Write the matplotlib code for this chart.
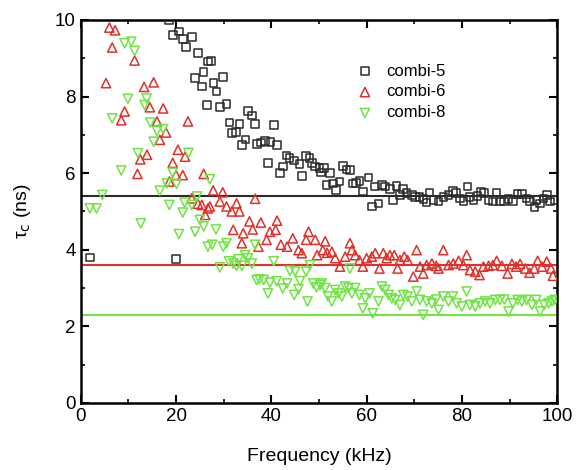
import matplotlib
matplotlib.use("Agg")
import matplotlib.pyplot as plt
import numpy as np

# combi-5 (black squares)
freq_5 = [1.9, 18.5, 19.3, 20.0, 20.6, 21.4, 22.1, 23.3, 24.0, 24.6, 25.4, 25.8, 26.5, 26.7, 27.3,
          27.9, 28.5, 29.2, 29.9, 30.6, 31.2, 31.8, 32.6, 33.3, 33.9, 34.6, 35.1, 35.9, 36.6, 37.0,
          37.8, 38.7, 39.3, 39.8, 40.5, 41.2, 41.8, 42.5, 43.2, 43.8, 44.7, 45.9, 46.4, 47.3, 48.0,
          48.5, 49.2, 50.1, 50.4, 51.1, 51.6, 52.3, 53.0, 53.6, 54.3, 55.1, 55.8, 56.5, 57.1, 57.8,
          58.5, 59.2, 60.4, 61.1, 61.8, 62.5, 63.2, 63.9, 64.9, 65.6, 66.3, 67.0, 67.7, 68.4, 69.5,
          70.2, 71.1, 71.9, 72.6, 73.2, 74.0, 75.1, 76.1, 77.2, 78.1, 78.8, 79.6, 80.3, 81.2, 81.6,
          82.4, 83.3, 84.0, 84.7, 85.6, 86.5, 87.3, 88.0, 88.9, 89.8, 90.7, 91.7, 92.6, 93.6, 94.3,
          95.2, 95.7, 96.4, 97.1, 97.8, 98.5, 99.4]
tau_5 = [3.8, 10.0, 9.6, 3.76, 9.7, 9.5, 9.3, 9.56, 8.49, 9.14, 8.26, 8.64, 7.78, 8.91, 8.93,
         8.36, 8.13, 7.73, 8.51, 7.8, 7.32, 7.05, 7.08, 7.28, 6.74, 6.88, 7.62, 7.5, 7.28, 6.76,
         6.80, 6.84, 6.27, 6.82, 7.25, 6.74, 6.01, 6.17, 6.46, 6.39, 6.33, 6.24, 5.93, 6.44, 6.39,
         6.26, 6.17, 6.14, 6.02, 6.13, 5.69, 6.0, 5.73, 5.56, 5.78, 6.19, 6.1, 6.08, 5.73, 5.75,
         5.8, 5.52, 5.89, 5.13, 5.65, 5.21, 5.69, 5.65, 5.58, 5.3, 5.66, 5.43, 5.58, 5.48, 5.43,
         5.37, 5.37, 5.32, 5.23, 5.49, 5.3, 5.26, 5.37, 5.43, 5.54, 5.48, 5.34, 5.28, 5.65, 5.38,
         5.3, 5.4, 5.52, 5.48, 5.3, 5.26, 5.49, 5.26, 5.26, 5.32, 5.26, 5.46, 5.46, 5.34, 5.26,
         5.11, 5.3, 5.21, 5.34, 5.43, 5.26, 5.3]

# combi-6 (red triangles)
freq_6 = [5.3, 6.0, 6.6, 7.2, 8.5, 9.2, 11.3, 11.9, 12.5, 13.3, 13.9, 14.5, 15.3, 16.0, 16.6,
          17.3, 17.9, 18.6, 19.3, 20.0, 20.4, 21.4, 21.9, 22.5, 23.3, 24.6, 25.4, 25.8, 26.1, 26.7,
          27.1, 27.8, 29.2, 29.8, 30.6, 31.7, 32.0, 32.7, 33.3, 33.8, 34.1, 35.4, 36.1, 36.6, 37.3,
          37.8, 39.0, 39.7, 40.9, 41.2, 42.0, 43.3, 44.5, 45.7, 46.4, 47.3, 47.8, 49.2, 49.6, 50.8,
          51.3, 51.7, 52.7, 53.4, 54.4, 55.5, 56.5, 56.9, 57.6, 58.5, 59.2, 60.0, 61.1, 61.8, 62.7,
          63.5, 64.2, 64.9, 65.8, 66.5, 67.0, 67.9, 68.6, 69.8, 70.5, 71.2, 71.9, 72.6, 73.7, 74.6,
          75.1, 76.1, 77.2, 78.2, 79.3, 80.3, 81.0, 81.7, 82.8, 83.7, 84.5, 85.6, 86.5, 87.3, 88.4,
          89.6, 90.5, 91.4, 92.2, 93.3, 94.2, 95.2, 95.9, 96.8, 97.8, 98.7, 99.1]
tau_6 = [8.35, 9.8, 9.28, 9.73, 7.38, 7.61, 8.94, 5.98, 6.36, 8.25, 6.48, 7.72, 8.37, 7.35, 6.87,
         7.69, 7.06, 5.78, 6.27, 5.95, 6.61, 5.95, 6.43, 7.35, 5.34, 5.2, 5.17, 5.98, 4.91, 5.08,
         5.13, 5.55, 5.26, 5.5, 5.13, 5.0, 4.52, 5.21, 5.0, 4.17, 4.43, 4.74, 4.53, 5.33, 4.08,
         4.71, 4.26, 4.47, 4.52, 4.76, 4.13, 4.08, 4.3, 3.99, 3.91, 4.26, 4.47, 4.26, 3.86, 3.99,
         4.22, 3.92, 3.95, 3.78, 3.56, 3.82, 4.17, 3.99, 3.86, 3.73, 3.56, 3.78, 3.82, 3.91, 3.51,
         3.91, 3.78, 3.86, 3.86, 3.51, 3.73, 3.82, 3.73, 3.3, 3.99, 3.56, 3.38, 3.6, 3.64, 3.58,
         3.51, 3.99, 3.6, 3.64, 3.71, 3.6, 3.86, 3.47, 3.43, 3.34, 3.56, 3.58, 3.6, 3.71, 3.58,
         3.38, 3.63, 3.56, 3.63, 3.51, 3.4, 3.51, 3.71, 3.56, 3.69, 3.51, 3.32]

# combi-8 (green down triangles)
freq_8 = [1.9, 3.3, 4.5, 6.6, 8.5, 9.2, 9.9, 10.6, 11.3, 12.0, 12.6, 13.4, 13.8, 14.6, 15.3,
          16.0, 16.6, 17.3, 18.1, 18.6, 19.3, 20.1, 20.6, 21.4, 21.8, 22.6, 23.3, 24.0, 24.4, 25.0,
          25.8, 26.7, 27.1, 27.6, 28.4, 29.2, 29.9, 30.6, 31.1, 32.0, 32.7, 33.1, 33.8, 34.5, 35.1,
          35.9, 36.6, 36.9, 37.5, 38.4, 39.3, 39.7, 40.5, 41.1, 42.4, 43.3, 43.9, 44.8, 45.0, 45.7,
          46.0, 47.3, 47.6, 48.1, 48.8, 49.5, 50.2, 50.6, 51.3, 51.9, 52.7, 53.4, 54.1, 54.8, 55.5,
          56.2, 56.5, 56.9, 57.6, 58.5, 59.2, 59.7, 60.6, 61.3, 62.5, 63.2, 63.9, 64.6, 65.3, 66.0,
          67.0, 67.7, 68.6, 69.5, 70.5, 71.2, 71.9, 72.6, 73.7, 74.6, 75.1, 76.1, 77.2, 78.1, 78.9,
          80.0, 81.0, 81.7, 82.8, 83.8, 84.9, 85.9, 87.0, 88.0, 88.9, 89.8, 90.7, 91.7, 92.6, 93.6,
          94.7, 95.6, 96.4, 97.3, 98.2, 98.9, 99.5]
tau_8 = [5.08, 5.08, 5.43, 7.43, 6.07, 9.39, 7.94, 9.43, 9.19, 6.52, 4.69, 7.78, 7.95, 7.32, 6.82,
         7.1, 5.54, 7.15, 5.73, 5.17, 6.01, 5.72, 4.41, 4.97, 5.23, 6.53, 5.17, 4.47, 5.39, 4.78,
         4.61, 4.08, 5.84, 4.13, 4.53, 3.54, 4.08, 4.17, 3.7, 3.64, 3.58, 3.75, 3.58, 3.86, 3.78,
         3.64, 4.13, 3.21, 3.23, 3.21, 2.86, 3.14, 3.7, 3.18, 2.99, 3.12, 3.45, 2.82, 3.43, 2.97,
         3.18, 3.43, 2.65, 3.6, 3.12, 3.02, 3.08, 3.12, 3.0, 2.78, 2.65, 2.95, 2.86, 2.78, 3.04,
         3.0, 3.51, 2.86, 3.0, 2.82, 2.47, 2.73, 2.86, 2.34, 2.65, 3.04, 2.95, 2.82, 2.73, 2.69,
         2.56, 2.82, 2.78, 2.65, 2.91, 2.69, 2.3, 2.65, 2.6, 2.7, 2.43, 2.78, 2.65, 2.78, 2.6,
         2.52, 2.91, 2.56, 2.52, 2.6, 2.65, 2.6, 2.69, 2.69, 2.7, 2.39, 2.6, 2.69, 2.65, 2.69,
         2.56, 2.69, 2.39, 2.56, 2.6, 2.65, 2.69]

# saturation levels (horizontal lines)
levels = [5.4, 3.6, 2.3]

labels = ["combi-5", "combi-6", "combi-8"]
colors = ["#2b2b2b", "#e0302a", "#70e444"]
markers = ["s", "^", "v"]

plt.rcParams["font.family"] = ["Liberation Sans", "DejaVu Sans"]

fig = plt.figure(figsize=(5.81, 4.70), dpi=100)
ax = fig.add_axes([0.139, 0.1426, 0.820, 0.815])

# lines first so markers sit on top
for lvl, c in zip(levels, colors):
    ax.axhline(lvl, color=c, lw=1.5, zorder=1)

series = [(freq_5, tau_5), (freq_6, tau_6), (freq_8, tau_8)]
sizes = [30, 44, 44]
for (f, t), lab, c, m, s in zip(series, labels, colors, markers, sizes):
    ax.scatter(f, t, marker=m, s=s, facecolors="none", edgecolors=c,
               linewidths=1.1, label=lab, zorder=3)

ax.set_xlim(0, 100)
ax.set_ylim(0, 10)
ax.set_xticks(np.arange(0, 101, 20))
ax.set_xticks(np.arange(0, 101, 10), minor=True)
ax.set_yticks(np.arange(0, 11, 2))
ax.set_yticks(np.arange(0, 11, 1), minor=True)
ax.tick_params(which="both", direction="in", top=True, right=True, labelsize=13.5)
ax.tick_params(which="major", length=6, width=1.5)
ax.tick_params(which="minor", length=3, width=1.2)
for sp in ax.spines.values():
    sp.set_linewidth(1.8)

ax.set_xlabel("Frequency (kHz)", fontsize=14, labelpad=17)
ax.set_ylabel(r"τ$_\mathrm{c}$ (ns)", fontsize=14, labelpad=16)

ax.legend(loc="upper left", bbox_to_anchor=(0.53, 0.925), frameon=False, fontsize=12,
          handletextpad=0.3, labelspacing=0.35, scatterpoints=1)

fig.savefig("out.png", dpi=100)
plt.close(fig)
